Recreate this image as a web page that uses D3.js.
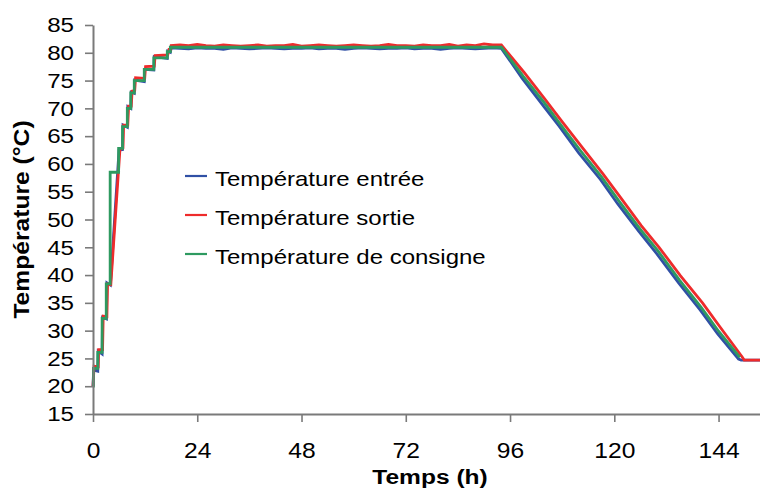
<!doctype html>
<html>
<head>
<meta charset="utf-8">
<style>
    body { margin: 0; background: #fff; }
    svg { display: block; }
    text { font-family: "Liberation Sans", Arial, sans-serif; fill: #000; }
</style>
<script src="https://d3js.org/d3.v7.min.js"></script>
</head>
<body>
<svg width="760" height="488"></svg>
<script>

// ---- data (hours, degrees C) ----
var xTicks = [0, 24, 48, 72, 96, 120, 144];
var yTicks = [15, 20, 25, 30, 35, 40, 45, 50, 55, 60, 65, 70, 75, 80, 85];

var seriesNames = ["Température entrée", "Température sortie", "Température de consigne"];

// consigne (set point), steps on the way up, plateau, then ramp down
var consigneTime = [0, 0.1, 0.1, 1.1, 1.1, 2.1, 2.1, 3.05, 3.05, 3.95, 3.95, 5.9, 5.9, 6.8, 6.8, 7.9, 7.9, 8.7, 8.7, 9.5, 9.5, 11.8, 11.8, 14.0, 14.0, 17.1, 17.1, 17.8, 17.8, 94.0,
                    99, 104, 107.5, 112, 117, 121, 125.9, 130, 135, 140, 144, 148.9];
var consigneTemp = [20.0, 20.0, 23.2, 23.2, 26.1, 26.1, 32.2, 32.2, 38.4, 38.4, 58.5, 58.5, 62.8, 62.8, 66.7, 66.7, 70.0, 70.0, 72.8, 72.8, 75.0, 75.0, 77.0, 77.0, 79.1, 79.1, 80.2, 80.2, 81.0, 81.0,
                    75.8, 70.9, 67.2, 62.6, 57.7, 53.4, 48.3, 44.4, 39.1, 34.2, 29.9, 25.2];

// heating phase
var sortieRampTime = [0, 0.25, 1.2, 1.3, 2.2, 2.35, 3.2, 3.35, 4.1, 6.2, 6.9, 7.05, 8.0, 8.2, 8.8, 9.0, 9.6, 9.8, 11.9, 12.1, 14.1, 14.3, 17.2, 17.5, 17.9];
var sortieRampTemp = [20.0, 23.6, 23.5, 26.6, 26.6, 32.6, 32.5, 38.4, 38.3, 62.6, 62.9, 67.0, 67.0, 70.4, 70.4, 73.1, 73.2, 75.5, 75.4, 77.5, 77.6, 79.5, 79.6, 80.6, 80.6];
var entreeRampTime = [0, 0.15, 1.1, 1.2, 2.1, 2.2, 3.1, 3.2, 4.0, 6.0, 6.8, 6.9, 7.9, 8.0, 8.7, 8.8, 9.5, 9.6, 11.8, 11.9, 14.0, 14.1, 17.1, 17.2, 17.8];
var entreeRampTemp = [20.0, 22.9, 22.7, 26.3, 25.8, 32.4, 32.1, 38.6, 38.2, 62.5, 62.6, 67.0, 66.6, 70.3, 70.0, 72.9, 72.7, 75.1, 74.8, 77.0, 76.9, 79.3, 79.0, 80.3, 80.1];

// plateau
var plateauTime = [18, 20, 22, 24, 26, 28, 30, 32, 34, 36, 38, 40, 42, 44, 46, 48, 50, 52, 54, 56, 58, 60, 62, 64, 66, 68, 70, 72, 74, 76, 78, 80, 82, 84, 86, 88, 90, 92, 94];
var sortiePlateau = [81.3, 81.4, 81.3, 81.5, 81.3, 81.2, 81.4, 81.3, 81.2, 81.3, 81.4, 81.2, 81.3, 81.3, 81.5, 81.2, 81.3, 81.4, 81.3, 81.2, 81.3, 81.4, 81.3, 81.2, 81.3, 81.5, 81.3, 81.3, 81.2, 81.4, 81.3, 81.3, 81.5, 81.2, 81.4, 81.3, 81.6, 81.4, 81.4];
var entreePlateau = [80.9, 80.8, 80.7, 80.9, 80.8, 80.8, 80.6, 80.9, 80.8, 80.7, 80.8, 80.9, 80.8, 80.7, 80.8, 80.8, 80.9, 80.7, 80.8, 80.8, 80.6, 80.8, 80.9, 80.8, 80.7, 80.8, 80.8, 80.9, 80.7, 80.8, 80.8, 80.6, 80.8, 80.9, 80.8, 80.7, 80.8, 80.9, 80.8];

// cooling phase
var sortieDownTime = [99.2, 104.2, 107.8, 112.2, 117.3, 121.2, 126.2, 130.3, 135.2, 140.3, 144.3, 149.4, 149.9, 154];
var sortieDownTemp = [76.5, 71.5, 67.8, 63.4, 58.3, 54.2, 48.9, 45.0, 39.9, 35.0, 30.7, 25.3, 24.7, 24.7];
var entreeDownTime = [98.8, 103.8, 107.3, 111.8, 116.8, 120.8, 125.7, 129.8, 134.8, 139.8, 143.8, 148.6, 149.2, 154];
var entreeDownTemp = [75.4, 70.3, 66.8, 62.0, 57.2, 52.8, 47.8, 43.8, 38.6, 33.7, 29.4, 24.9, 24.7, 24.7];

function zip(t, v) { return t.map(function(d, i) { return [d, v[i]]; }); }

var entree = zip(entreeRampTime, entreeRampTemp).concat(zip(plateauTime, entreePlateau), zip(entreeDownTime, entreeDownTemp));
var sortie = zip(sortieRampTime, sortieRampTemp).concat(zip(plateauTime, sortiePlateau), zip(sortieDownTime, sortieDownTemp));
var consigne = zip(consigneTime, consigneTemp);

var colors = ["#3050a5", "#ee2b2b", "#2e9a60"];

// ---- chart ----
var svg = d3.select("svg");

var x = d3.scaleLinear().domain([0, 154]).range([93, 762]);
var y = d3.scaleLinear().domain([15, 85]).range([414, 25]);

var line = d3.line()
    .x(function(d) { return x(d[0]); })
    .y(function(d) { return y(d[1]); });

// lines: entrée, sortie, consigne on top
[entree, sortie, consigne].forEach(function(data, i) {
    svg.append("path")
        .datum(data)
        .attr("fill", "none")
        .attr("stroke", colors[i])
        .attr("stroke-width", 2.8)
        .attr("stroke-linejoin", "miter")
        .attr("d", line);
});

// y axis
var yAxis = svg.append("g")
    .attr("transform", "translate(93,0)")
    .call(d3.axisLeft(y).tickValues(yTicks).tickSize(8).tickSizeOuter(0));
yAxis.select(".domain").attr("stroke", "#7a7a7a").attr("stroke-width", 2);
yAxis.selectAll(".tick line").attr("stroke", "#7a7a7a").attr("stroke-width", 1.6);
yAxis.selectAll(".tick text")
    .attr("x", -16.5)
    .attr("font-size", "21px")
    .attr("transform", "scale(1.15,1)");

// x axis
var xAxis = svg.append("g")
    .attr("transform", "translate(0,414)")
    .call(d3.axisBottom(x).tickValues(xTicks).tickSize(8).tickSizeOuter(0));
xAxis.select(".domain").attr("stroke", "#7a7a7a").attr("stroke-width", 2);
xAxis.selectAll(".tick line").attr("stroke", "#7a7a7a").attr("stroke-width", 1.6);
xAxis.selectAll(".tick text")
    .attr("y", 44)
    .attr("dy", null)
    .attr("font-size", "22px")
    .attr("transform", "scale(1.12,1)");

// axis titles
svg.append("text")
    .attr("transform", "translate(430,484) scale(1.17,1)")
    .attr("text-anchor", "middle")
    .attr("font-size", "21px")
    .attr("font-weight", "bold")
    .text("Temps (h)");

svg.append("text")
    .attr("transform", "translate(29,219.5) rotate(-90) scale(1.12,1)")
    .attr("text-anchor", "middle")
    .attr("font-size", "22px")
    .attr("font-weight", "bold")
    .text("Température (°C)");

// legend
var legend = svg.append("g");
seriesNames.forEach(function(name, i) {
    legend.append("line")
        .attr("x1", 185).attr("x2", 207)
        .attr("y1", 176 + i * 39).attr("y2", 176 + i * 39)
        .attr("stroke", colors[i])
        .attr("stroke-width", 2.2);
    legend.append("text")
        .attr("transform", "translate(215," + (186 + i * 39) + ") scale(1.2,1)")
        .attr("font-size", "20px")
        .text(name);
});

</script>
</body>
</html>
